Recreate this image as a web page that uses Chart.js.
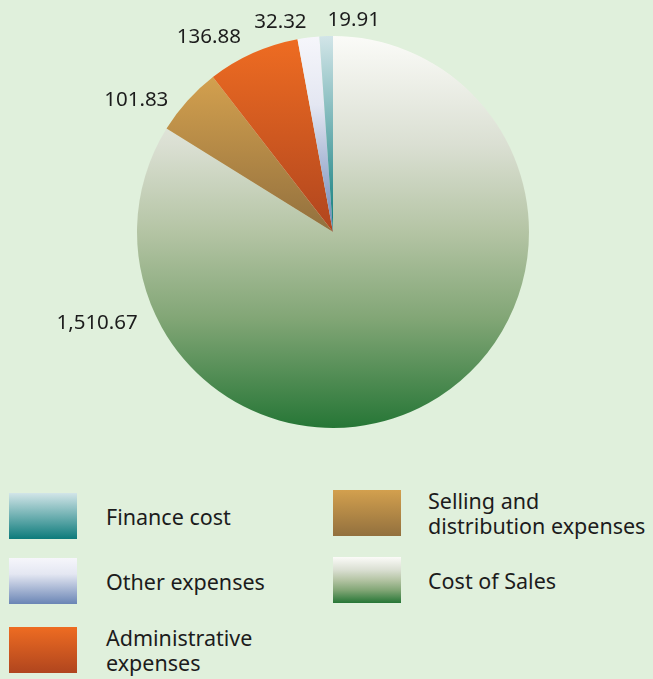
<!DOCTYPE html>
<html>
<head>
<meta charset="utf-8">
<script src="https://cdn.jsdelivr.net/npm/chart.js@4.4.1/dist/chart.umd.min.js"></script>
<style>
  html, body { margin: 0; padding: 0; }
  body {
    width: 653px; height: 679px; position: relative; overflow: hidden;
    background: #e0f0dc;
    font-family: "Noto Sans", sans-serif; color: #1c1c1c;
  }
  #pieWrap { position: absolute; left: 0; top: 0; width: 653px; height: 470px; }
  .lg-item { position: absolute; display: flex; align-items: center; }
  .lg-swatch { width: 68px; height: 46px; flex: none; }
  .lg-text { font-size: 21.5px; line-height: 25px; letter-spacing: 0; }
</style>
</head>
<body>
<div id="pieWrap"><canvas id="costChart"></canvas></div>
<div id="legend"></div>
<script>
// slices, clockwise from 12 o'clock
const categories = ['Cost of Sales', 'Selling and distribution expenses', 'Administrative expenses', 'Other expenses', 'Finance cost'];
const amounts = [1510.67, 101.83, 136.88, 32.32, 19.91];

// gradient stops per slice, top -> bottom
const sliceStops = [
  [[0, '#fbfbf8'], [0.28, '#dadfd2'], [0.5, '#b4c4a4'], [0.72, '#82a676'], [1, '#267636']],
  [[0, '#d3a04e'], [1, '#92703e']],
  [[0, '#ee6c22'], [1, '#b0451e']],
  [[0, '#f6f6fb'], [0.35, '#e4e7f2'], [1, '#6a85b5']],
  [[0, '#d2e5e8'], [1, '#0c7b7b']]
];

// value label placement: angle clockwise from top (deg), gap outside the rim (px)
const labelAngle = [248.8, 303.9, 327.5, 345.9, 5.6];
const labelGap = [57, 41, 35, 20, 17];

// legend layout: [slice index, left, top]
const legendSlots = [
  [4, 9, 493], [3, 9, 558], [2, 9, 625],
  [1, 333, 488], [0, 333, 557]
];
const legendLines = {
  1: ['Selling and', 'distribution expenses'],
  2: ['Administrative', 'expenses']
};

const total = amounts.reduce((a, b) => a + b, 0);

function sliceGradient(ctx) {
  const chart = ctx.chart;
  const area = chart.chartArea;
  const i = ctx.dataIndex;
  const stops = sliceStops[i];
  if (!area) return stops[stops.length - 1][1];
  const cx = (area.left + area.right) / 2;
  const cy = (area.top + area.bottom) / 2;
  const r = Math.min(area.right - area.left, area.bottom - area.top) / 2;
  // vertical extent of the wedge
  let before = 0;
  for (let k = 0; k < i; k++) before += amounts[k];
  const a0 = -Math.PI / 2 + before / total * Math.PI * 2;
  const a1 = a0 + amounts[i] / total * Math.PI * 2;
  const ys = [cy, cy + r * Math.sin(a0), cy + r * Math.sin(a1)];
  for (let q = -1; q < 5; q++) {
    const a = q * Math.PI / 2;
    if (a > a0 && a < a1) ys.push(cy + r * Math.sin(a));
  }
  const y0 = Math.min(...ys), y1 = Math.max(...ys);
  const g = chart.ctx.createLinearGradient(0, y0, 0, y1 + 0.01);
  stops.forEach(s => g.addColorStop(s[0], s[1]));
  return g;
}

const valueLabels = {
  id: 'valueLabels',
  afterDatasetsDraw(chart) {
    const area = chart.chartArea;
    const cx = (area.left + area.right) / 2;
    const cy = (area.top + area.bottom) / 2;
    const r = Math.min(area.right - area.left, area.bottom - area.top) / 2;
    const c = chart.ctx;
    c.save();
    c.font = '20.5px "Noto Sans"';
    c.fillStyle = '#1c1c1c';
    c.textAlign = 'center';
    c.textBaseline = 'middle';
    amounts.forEach((v, i) => {
      const a = labelAngle[i] * Math.PI / 180;
      const d = r + labelGap[i];
      const text = v.toLocaleString('en-US', { minimumFractionDigits: 2, maximumFractionDigits: 2 });
      c.fillText(text, cx + d * Math.sin(a), cy - d * Math.cos(a));
    });
    c.restore();
  }
};

new Chart(document.getElementById('costChart'), {
  type: 'pie',
  data: {
    labels: categories,
    datasets: [{
      data: amounts,
      backgroundColor: sliceGradient,
      borderWidth: 0,
      hoverOffset: 0
    }]
  },
  options: {
    responsive: true,
    maintainAspectRatio: false,
    animation: false,
    layout: { padding: { left: 136, right: 123, top: 36, bottom: 42 } },
    plugins: {
      legend: { display: false },
      tooltip: { enabled: false }
    }
  },
  plugins: [valueLabels]
});

// legend below the pie
const legendEl = document.getElementById('legend');
legendSlots.forEach(([i, left, top]) => {
  const item = document.createElement('div');
  item.className = 'lg-item';
  item.style.left = left + 'px';
  item.style.top = top + 'px';
  const sw = document.createElement('div');
  sw.className = 'lg-swatch';
  sw.style.background = 'linear-gradient(to bottom, ' +
    sliceStops[i].map(s => `${s[1]} ${s[0] * 100}%`).join(', ') + ')';
  const txt = document.createElement('div');
  txt.className = 'lg-text';
  txt.style.marginLeft = (left < 100 ? 29 : 27) + 'px';
  txt.innerHTML = (legendLines[i] || [categories[i]]).join('<br>');
  item.appendChild(sw);
  item.appendChild(txt);
  legendEl.appendChild(item);
});
</script>
</body>
</html>
